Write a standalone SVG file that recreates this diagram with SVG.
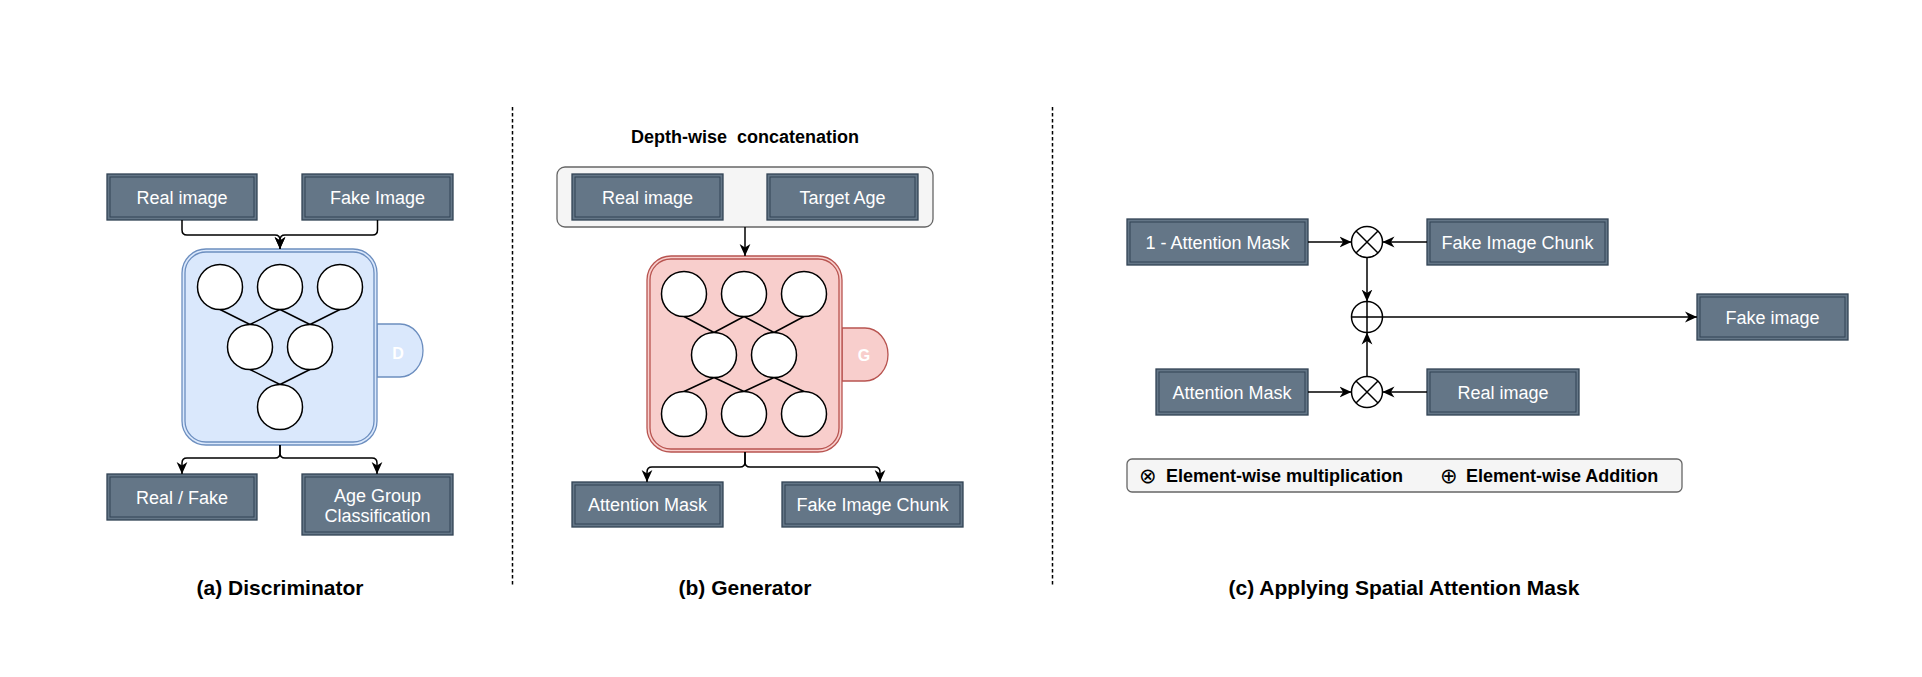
<svg xmlns="http://www.w3.org/2000/svg" width="1922" height="677" viewBox="0 0 1922 677">
<defs>
<style>
.box{fill:#647687;stroke:#314354;stroke-width:1.3}
.inner{fill:none;stroke:#314354;stroke-width:1}
.bt{font-family:"Liberation Sans",Arial,sans-serif;font-size:18px;fill:#ffffff;text-anchor:middle}
.title{font-family:"Liberation Sans",Arial,sans-serif;font-size:21px;font-weight:bold;fill:#000;text-anchor:middle}
.lab{font-family:"Liberation Sans",Arial,sans-serif;font-size:18px;font-weight:bold;fill:#000}
.sym{font-family:"DejaVu Sans","Liberation Sans",sans-serif;font-size:21px;font-weight:normal;fill:#000}
.node{fill:#ffffff;stroke:#000;stroke-width:1.5}
.nl{stroke:#000;stroke-width:1.5;fill:none}
.conn{fill:none;stroke:#000;stroke-width:1.5}
.arr{fill:none;stroke:#000;stroke-width:1.5;marker-end:url(#ah)}
.dash{stroke:#000;stroke-width:1.5;stroke-dasharray:3.5 2.5;fill:none}
.tabt{font-family:"Liberation Sans",Arial,sans-serif;font-size:16px;font-weight:bold;fill:#ffffff;text-anchor:middle}
</style>
<marker id="ah" viewBox="0 0 10 10" refX="10" refY="5" markerWidth="12" markerHeight="12" markerUnits="userSpaceOnUse" orient="auto">
<path d="M0,0.5 L10,5 L0,9.5 L3,5 Z" fill="#000"/>
</marker>
</defs>
<rect width="1922" height="677" fill="#ffffff"/>

<g id="separators">
<line class="dash" x1="512.5" y1="107" x2="512.5" y2="587"/>
<line class="dash" x1="1052.5" y1="107" x2="1052.5" y2="587"/>
</g>

<!-- (a) Discriminator -->
<g id="a-real-image">
<rect class="box" x="107" y="174" width="150" height="46"/>
<rect class="inner" x="110" y="177" width="144" height="40"/>
<text class="bt" x="182" y="203.5">Real image</text>
</g>
<g id="a-fake-image">
<rect class="box" x="302" y="174" width="151" height="46"/>
<rect class="inner" x="305" y="177" width="145" height="40"/>
<text class="bt" x="377.5" y="203.5">Fake Image</text>
</g>
<g id="a-discriminator">
<path d="M377,324 H400 A23,26.5 0 0 1 400,377 H377 Z" fill="#dae8fc" stroke="#6c8ebf" stroke-width="1.3"/>
<text class="tabt" x="398" y="359">D</text>
<rect x="182" y="249" width="195" height="196" rx="24" fill="#dae8fc" stroke="#6c8ebf" stroke-width="1.3"/>
<rect x="185" y="252" width="189" height="190" rx="21" fill="none" stroke="#6c8ebf" stroke-width="1.3"/>
<path class="nl" d="M220,309.5 L250,324.5 M280,309.5 L250,324.5 M280,309.5 L310,324.5 M340,309.5 L310,324.5 M250,369.5 L280,384.5 M310,369.5 L280,384.5"/>
<circle class="node" cx="220" cy="287" r="22.5"/>
<circle class="node" cx="280" cy="287" r="22.5"/>
<circle class="node" cx="340" cy="287" r="22.5"/>
<circle class="node" cx="250" cy="347" r="22.5"/>
<circle class="node" cx="310" cy="347" r="22.5"/>
<circle class="node" cx="280" cy="407" r="22.5"/>
</g>
<g id="a-real-fake">
<rect class="box" x="107" y="474" width="150" height="46"/>
<rect class="inner" x="110" y="477" width="144" height="40"/>
<text class="bt" x="182" y="503.5">Real / Fake</text>
</g>
<g id="a-age-group">
<rect class="box" x="302" y="474" width="151" height="61"/>
<rect class="inner" x="305" y="477" width="145" height="55"/>
<text class="bt" x="377.5" y="501.5">Age Group</text>
<text class="bt" x="377.5" y="521.5">Classification</text>
</g>
<text class="title" x="280" y="595">(a) Discriminator</text>

<!-- (b) Generator -->
<text class="lab" x="745" y="143" text-anchor="middle" xml:space="preserve">Depth-wise  concatenation</text>
<g id="b-concat">
<rect x="557" y="167" width="376" height="60" rx="8" fill="#f5f5f5" stroke="#666666" stroke-width="1.3"/>
</g>
<g id="b-real-image">
<rect class="box" x="572" y="174" width="151" height="46"/>
<rect class="inner" x="575" y="177" width="145" height="40"/>
<text class="bt" x="647.5" y="203.5">Real image</text>
</g>
<g id="b-target-age">
<rect class="box" x="767" y="174" width="151" height="46"/>
<rect class="inner" x="770" y="177" width="145" height="40"/>
<text class="bt" x="842.5" y="203.5">Target Age</text>
</g>
<g id="b-generator">
<path d="M842,328 H865 A23,26.5 0 0 1 865,381 H842 Z" fill="#f8cecc" stroke="#b85450" stroke-width="1.3"/>
<text class="tabt" x="864" y="361">G</text>
<rect x="647" y="256" width="195" height="196" rx="24" fill="#f8cecc" stroke="#b85450" stroke-width="1.3"/>
<rect x="650" y="259" width="189" height="190" rx="21" fill="none" stroke="#b85450" stroke-width="1.3"/>
<path class="nl" d="M684,316.5 L714,332.5 M744,316.5 L714,332.5 M744,316.5 L774,332.5 M804,316.5 L774,332.5 M714,377.5 L684,391.5 M714,377.5 L744,391.5 M774,377.5 L744,391.5 M774,377.5 L804,391.5"/>
<circle class="node" cx="684" cy="294" r="22.5"/>
<circle class="node" cx="744" cy="294" r="22.5"/>
<circle class="node" cx="804" cy="294" r="22.5"/>
<circle class="node" cx="714" cy="355" r="22.5"/>
<circle class="node" cx="774" cy="355" r="22.5"/>
<circle class="node" cx="684" cy="414" r="22.5"/>
<circle class="node" cx="744" cy="414" r="22.5"/>
<circle class="node" cx="804" cy="414" r="22.5"/>
</g>
<g id="b-attention-mask">
<rect class="box" x="572" y="482" width="151" height="45"/>
<rect class="inner" x="575" y="485" width="145" height="39"/>
<text class="bt" x="647.5" y="511">Attention Mask</text>
</g>
<g id="b-fake-chunk">
<rect class="box" x="782" y="482" width="181" height="45"/>
<rect class="inner" x="785" y="485" width="175" height="39"/>
<text class="bt" x="872.5" y="511">Fake Image Chunk</text>
</g>
<text class="title" x="745" y="595">(b) Generator</text>

<!-- (c) Applying Spatial Attention Mask -->
<g id="c-one-minus-mask">
<rect class="box" x="1127" y="219" width="181" height="46"/>
<rect class="inner" x="1130" y="222" width="175" height="40"/>
<text class="bt" x="1217.5" y="248.5">1 - Attention Mask</text>
</g>
<g id="c-fake-chunk">
<rect class="box" x="1427" y="219" width="181" height="46"/>
<rect class="inner" x="1430" y="222" width="175" height="40"/>
<text class="bt" x="1517.5" y="248.5">Fake Image Chunk</text>
</g>
<g id="c-attention-mask">
<rect class="box" x="1156" y="369" width="152" height="46"/>
<rect class="inner" x="1159" y="372" width="146" height="40"/>
<text class="bt" x="1232" y="398.5">Attention Mask</text>
</g>
<g id="c-real-image">
<rect class="box" x="1427" y="369" width="152" height="46"/>
<rect class="inner" x="1430" y="372" width="146" height="40"/>
<text class="bt" x="1503" y="398.5">Real image</text>
</g>
<g id="c-fake-image">
<rect class="box" x="1697" y="294" width="151" height="46"/>
<rect class="inner" x="1700" y="297" width="145" height="40"/>
<text class="bt" x="1772.5" y="323.5">Fake image</text>
</g>
<g id="c-mul-top">
<circle cx="1367" cy="242" r="15.5" fill="#fff" stroke="#000" stroke-width="1.5"/>
<path class="nl" d="M1356,231 L1378,253 M1378,231 L1356,253"/>
</g>
<g id="c-add">
<circle cx="1367" cy="317" r="15.5" fill="#fff" stroke="#000" stroke-width="1.5"/>
<path class="nl" d="M1351.5,317 H1382.5 M1367,301.5 V332.5"/>
</g>
<g id="c-mul-bottom">
<circle cx="1367" cy="392" r="15.5" fill="#fff" stroke="#000" stroke-width="1.5"/>
<path class="nl" d="M1356,381 L1378,403 M1378,381 L1356,403"/>
</g>
<g id="c-legend">
<rect x="1127" y="459" width="555" height="33" rx="5" fill="#f5f5f5" stroke="#666666" stroke-width="1.3"/>
<text class="sym" x="1139" y="483">⊗</text>
<text class="lab" x="1166" y="482">Element-wise multiplication</text>
<text class="sym" x="1440" y="483">⊕</text>
<text class="lab" x="1466" y="482">Element-wise Addition</text>
</g>
<text class="title" x="1404" y="595">(c) Applying Spatial Attention Mask</text>

<g id="connectors">
<path class="arr" d="M182,220 V230 Q182,235 187,235 H275 Q280,235 280,240 V249"/>
<path class="arr" d="M377.5,220 V230 Q377.5,235 372.5,235 H285 Q280,235 280,240 V249"/>
<path class="arr" d="M280,445 V453 Q280,458 275,458 H187 Q182,458 182,463 V474"/>
<path class="arr" d="M280,445 V453 Q280,458 285,458 H372 Q377,458 377,463 V474"/>
<path class="arr" d="M745,227 V256"/>
<path class="arr" d="M745,452 V462 Q745,467 740,467 H652 Q647,467 647,472 V482"/>
<path class="arr" d="M745,452 V462 Q745,467 750,467 H875 Q880,467 880,472 V482"/>
<path class="arr" d="M1308,242 H1351.5"/>
<path class="arr" d="M1427,242 H1382.5"/>
<path class="arr" d="M1367,257.5 V301.5"/>
<path class="arr" d="M1367,376.5 V332.5"/>
<path class="arr" d="M1382.5,317 H1697"/>
<path class="arr" d="M1308,392 H1351.5"/>
<path class="arr" d="M1427,392 H1382.5"/>
</g>
</svg>
